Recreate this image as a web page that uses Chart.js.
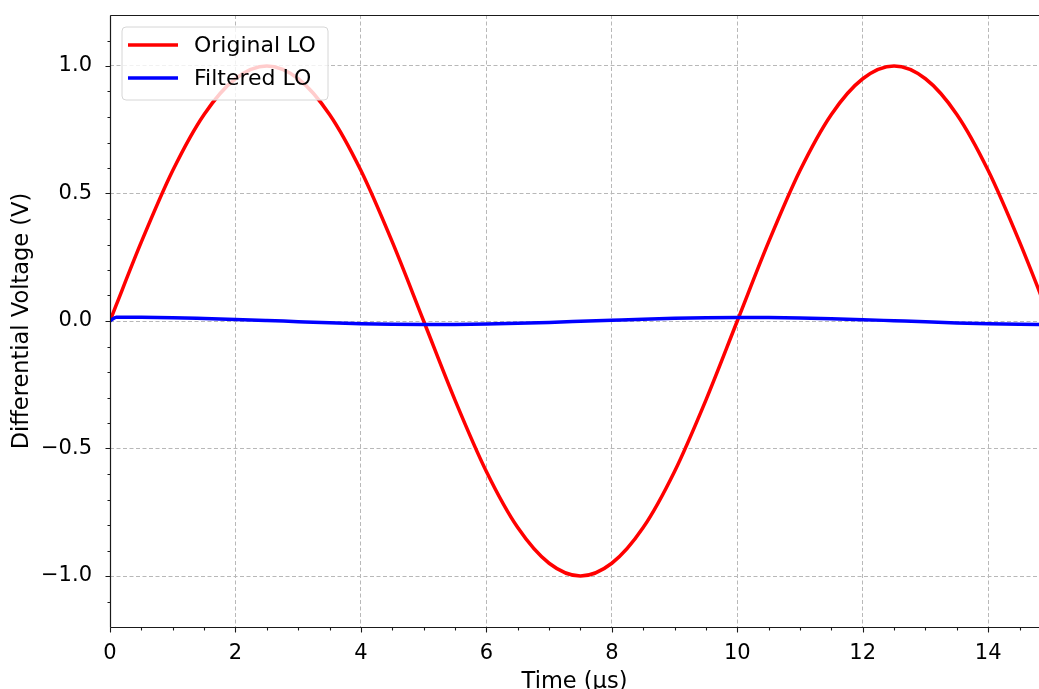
<!DOCTYPE html>
<html lang="en">
<head>
<meta charset="UTF-8">
<title>Original vs Filtered LO</title>
<script src="https://cdn.jsdelivr.net/npm/chart.js@4.4.0/dist/chart.umd.min.js"></script>
<style>
    * { margin: 0; padding: 0; box-sizing: border-box; }
    html, body { background: #fff; overflow: hidden; }
    .frame { width: 1039px; height: 689px; overflow: hidden; position: relative; }
    #loChart { display: block; }
</style>
</head>
<body>
<div class="frame">
    <canvas id="loChart" width="1039" height="700"></canvas>
</div>
<script>
// time axis samples (µs)
const timeUs = [0, 0.1, 0.5, 1, 1.5, 2, 2.5, 3, 3.5, 4, 4.5, 5, 5.5, 6, 6.5, 7, 7.5,
                8, 8.5, 9, 9.5, 10, 10.5, 11, 11.5, 12, 12.5, 13, 13.5, 14, 14.5, 15];

// differential voltage of the LO before filtering (V)
const originalLO = [0, 0.063, 0.31, 0.59, 0.81, 0.95, 1.0, 0.95, 0.81, 0.59, 0.31,
                    0, -0.31, -0.59, -0.81, -0.95, -1.0, -0.95, -0.81, -0.59, -0.31,
                    0, 0.31, 0.59, 0.81, 0.95, 1.0, 0.95, 0.81, 0.59, 0.31, 0];

// differential voltage after the filter (V)
const filteredLO = [0, 0.015, 0.0145, 0.013, 0.0098, 0.0062, 0.002, -0.0025, -0.0068,
                    -0.0103, -0.0128, -0.0139, -0.0136, -0.012, -0.0092, -0.0055, -0.0013,
                    0.003, 0.0072, 0.0106, 0.013, 0.014, 0.0136, 0.0119, 0.009, 0.0053,
                    0.001, -0.0033, -0.0074, -0.0108, -0.0131, -0.014];

const xMajor = [0, 2, 4, 6, 8, 10, 12, 14];
const yMajor = [-1.0, -0.5, 0.0, 0.5, 1.0];

const FONT = "'DejaVu Sans', 'Liberation Sans', sans-serif";

function points(ys) {
    return timeUs.map((t, i) => ({ x: t, y: ys[i] }));
}

// spines, major and minor tick marks, drawn like a matplotlib axes frame
const axesFrame = {
    id: 'axesFrame',
    afterDraw(chart) {
        const { ctx, chartArea: a, scales: { x, y } } = chart;
        const L = Math.round(a.left) + 0.5, T = Math.round(a.top) + 0.5, B = Math.round(a.bottom) + 0.5;
        ctx.save();
        ctx.strokeStyle = '#1a1a1a';
        ctx.lineWidth = 1.2;
        ctx.beginPath();
        ctx.moveTo(L, T); ctx.lineTo(a.right + 1, T);
        ctx.moveTo(L, T); ctx.lineTo(L, B);
        ctx.moveTo(L, B); ctx.lineTo(a.right + 1, B);
        ctx.stroke();

        ctx.lineWidth = 1.1;
        ctx.beginPath();
        for (let v = 0; v <= x.max + 1e-9; v += 0.5) {
            const px = Math.round(x.getPixelForValue(v)) + 0.5;
            const len = xMajor.includes(Math.round(v * 10) / 10) ? 5 : 3;
            ctx.moveTo(px, B); ctx.lineTo(px, B + len);
        }
        for (let k = -11; k <= 11; k++) {
            const py = Math.round(y.getPixelForValue(k / 10)) + 0.5;
            const len = (k % 5 === 0) ? 5 : 3;
            ctx.moveTo(L, py); ctx.lineTo(L - len, py);
        }
        ctx.stroke();
        ctx.restore();
    }
};

// boxed legend in the upper-left corner
const cornerLegend = {
    id: 'cornerLegend',
    afterDatasetsDraw(chart) {
        const { ctx, chartArea: a } = chart;
        const bx = a.left + 12, by = a.top + 12, bw = 206, bh = 73;
        ctx.save();
        ctx.beginPath();
        ctx.roundRect(bx, by, bw, bh, 4);
        ctx.fillStyle = 'rgba(255,255,255,0.8)';
        ctx.fill();
        ctx.strokeStyle = '#d6d6d6';
        ctx.lineWidth = 1;
        ctx.stroke();

        ctx.font = '22px ' + FONT;
        ctx.textBaseline = 'middle';
        ctx.fillStyle = '#000';
        chart.data.datasets.forEach((ds, i) => {
            const cy = by + 18 + i * 33;
            ctx.strokeStyle = ds.borderColor;
            ctx.lineWidth = 3.5;
            ctx.beginPath();
            ctx.moveTo(bx + 6, cy); ctx.lineTo(bx + 56, cy);
            ctx.stroke();
            ctx.fillText(ds.label, bx + 72, cy + 1);
        });
        ctx.restore();
    }
};

const gridStyle = {
    color: '#b8b8b8',
    lineWidth: 1,
    drawTicks: false
};

new Chart(document.getElementById('loChart'), {
    type: 'line',
    data: {
        datasets: [
            {
                label: 'Original LO',
                data: points(originalLO),
                borderColor: '#ff0000',
                borderWidth: 3.5,
                pointRadius: 0,
                cubicInterpolationMode: 'monotone',
                order: 2
            },
            {
                label: 'Filtered LO',
                data: points(filteredLO),
                borderColor: '#0000ff',
                borderWidth: 3.5,
                pointRadius: 0,
                cubicInterpolationMode: 'monotone',
                order: 1
            }
        ]
    },
    options: {
        responsive: false,
        animation: false,
        devicePixelRatio: 1,
        layout: { padding: { top: 15, right: 0, left: 0, bottom: 0 } },
        plugins: {
            legend: { display: false },
            tooltip: { enabled: false }
        },
        scales: {
            x: {
                type: 'linear',
                min: 0,
                max: 14.81,
                afterFit(scale) { scale.height = 73; },
                afterBuildTicks(scale) { scale.ticks = xMajor.map(v => ({ value: v })); },
                grid: gridStyle,
                border: { display: false, dash: [4, 2.5] },
                ticks: {
                    padding: 14,
                    color: '#000',
                    font: { family: FONT, size: 21 },
                    maxRotation: 0,
                    callback: v => String(v)
                },
                title: {
                    display: true,
                    text: 'Time (µs)',
                    color: '#000',
                    font: { family: FONT, size: 22.5 },
                    padding: { top: 0, bottom: 4 }
                }
            },
            y: {
                min: -1.2,
                max: 1.2,
                afterFit(scale) {
                    scale.width = 110;
                    scale.paddingTop = 0;
                    scale.paddingBottom = 0;
                },
                afterBuildTicks(scale) { scale.ticks = yMajor.map(v => ({ value: v })); },
                grid: gridStyle,
                border: { display: false, dash: [4, 2.5] },
                ticks: {
                    padding: 18,
                    color: '#000',
                    font: { family: FONT, size: 21 },
                    callback: v => v.toFixed(1).replace('-0.0', '0.0').replace('-', '\u2212')
                },
                title: {
                    display: true,
                    text: 'Differential Voltage (V)',
                    color: '#000',
                    font: { family: FONT, size: 22.5 },
                    padding: { top: 9, bottom: 0 }
                }
            }
        }
    },
    plugins: [axesFrame, cornerLegend]
});
</script>
</body>
</html>
